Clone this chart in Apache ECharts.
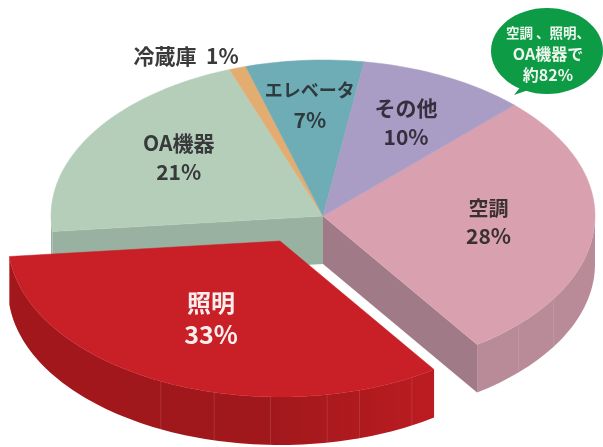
<!DOCTYPE html>
<html>
<head>
<meta charset="utf-8">
<style>html,body{margin:0;padding:0;background:#fff}#c{width:603px;height:447px}</style>
<script src="https://cdn.jsdelivr.net/npm/echarts@6/dist/echarts.min.js"></script>
</head>
<body>
<div id="c"></div>
<script>
const categories = ['空調', '照明', 'OA機器', '冷蔵庫', 'エレベータ', 'その他'];
const shares = [28, 33, 21, 1, 7, 10];
const bubbleLines = ['空調 、照明、', 'OA機器で', '約82%'];

// --- geometry and style (not data) ---
const CX = 323, CY = 216, RX = 272, RY = 156, DEPTH = 48, START = 45.3;
const topColors = ['#d9a1af', '#c91f26', '#b5ceb9', '#e3ad72', '#6eacb6', '#aa9dc5'];
const wallColors = ['#b98b99', '#a6181d', '#98b1a0', '#c99860', '#5d949d', '#8f84a8'];
const cutColors = ['#a07b87', '#8f1418', '#98b1a0', '#c99860', '#5d949d', '#8f84a8'];
const explode = [[0, 0], [-43, 25], [0, 0], [0, 0], [0, 0], [0, 0]];
const labelPolar = [[0.61, 1.5], [0.56, -2], [0.65, -3.2], [1.14, 7.9], [0.71, 0], [0.67, -0.4]];
const labelInk = ['#3a3034', '#fbeeee', '#37393a', '#3a3a3a', '#2f3a3e', '#352f3e'];
const labelSize = [20, 24, 21, 21, 18, 21];
const pctSize = [21, 25, 21, 21, 21, 21];
const labelGap = [14, 16, 14.5, 0, 15, 14.5];
const seamAngles = [244, 256, 268, 280, 287, 299, 316, 328];
const FONT = '"Noto Sans CJK JP","Noto Sans",sans-serif';

const rad = d => d * Math.PI / 180;
const pt = (t, ox, oy, dy) => [CX + ox + RX * Math.cos(rad(t)), CY + oy - RY * Math.sin(rad(t)) + (dy || 0)];
function arc(a, b, ox, oy, dy) {
  const n = Math.max(2, Math.ceil(Math.abs(a - b) / 1.5)), out = [];
  for (let i = 0; i <= n; i++) out.push(pt(a + (b - a) * i / n, ox, oy, dy));
  return out;
}

function renderItem(params, api) {
  const i = params.dataIndex;
  const value = api.value(0);
  const total = shares.reduce((s, v) => s + v, 0);
  const before = shares.slice(0, i).reduce((s, v) => s + v, 0);
  const a = START - before / total * 360;
  const b = a - value / total * 360;
  const [ox, oy] = explode[i];
  const base = i === 1 ? 50 : 0;   // the pulled-out slice sits in front of everything
  const kids = [];
  const c = [CX + ox, CY + oy];

  // side face along the cut edge that faces the viewer
  const cutT = i === 0 ? b : (i === 2 ? a : null);
  if (cutT !== null) {
    const e = pt(cutT, ox, oy);
    kids.push({ type: 'polygon', z2: base + 1,
      shape: { points: [c, e, [e[0], e[1] + DEPTH], [c[0], c[1] + DEPTH]] },
      style: { fill: cutColors[i] } });
  }
  // outer wall on the front half
  const fa = Math.min(a, 0), fb = Math.max(b, -180);
  if (fa > fb) {
    const top = arc(fa, fb, ox, oy), low = arc(fb, fa, ox, oy, DEPTH);
    const fill = i === 1
      ? { type: 'linear', x: 0, y: 0, x2: 1, y2: 0, colorStops: [{ offset: 0, color: '#a2171b' }, { offset: 0.6, color: '#a0181c' }, { offset: 1, color: '#bb1c21' }] }
      : wallColors[i];
    kids.push({ type: 'polygon', z2: base + 2, shape: { points: top.concat(low) }, style: { fill } });
    seamAngles.forEach(s => {
      const t = s - 360;
      if (t < fa && t > fb) {
        const p = pt(t, ox, oy);
        kids.push({ type: 'line', z2: base + 3,
          shape: { x1: p[0], y1: p[1], x2: p[0], y2: p[1] + DEPTH },
          style: { stroke: 'rgba(255,225,225,0.13)', lineWidth: 1 } });
      }
    });
  }
  // top surface
  kids.push({ type: 'polygon', z2: base + 10,
    shape: { points: [c].concat(arc(a, b, ox, oy)) },
    style: { fill: topColors[i], stroke: topColors[i], lineWidth: 0.5 } });

  // labels are placed from the slice's own mid angle
  const [lr, da] = labelPolar[i];
  const mid = (a + b) / 2 + da;
  const lx = CX + ox + lr * RX * Math.cos(rad(mid));
  const ly = CY + oy - lr * RY * Math.sin(rad(mid));
  const name = categories[i], pct = value + '%';
  const txt = (text, x, y, size) => ({ type: 'text', z2: 100,
    style: { text, x, y, fill: labelInk[i], font: 'bold ' + size + 'px ' + FONT, align: 'center', verticalAlign: 'middle' } });
  if (value < 3) kids.push(txt(name + '  ' + pct, lx, ly, labelSize[i]));
  else {
    kids.push(txt(name, lx, ly - labelGap[i], labelSize[i]));
    kids.push(txt(pct, lx, ly + labelGap[i], pctSize[i]));
  }
  return { type: 'group', children: kids };
}

const chart = echarts.init(document.getElementById('c'), null, { renderer: 'canvas' });
chart.setOption({
  backgroundColor: '#fff',
  animation: false,
  series: [{
    type: 'custom',
    coordinateSystem: 'none',
    renderItem,
    data: shares.map(v => [v]),
    silent: true
  }],
  graphic: [
    { type: 'polygon', z: 20, shape: { points: [[522, 85], [514, 95], [534, 88]] }, style: { fill: '#0e9b46' } },
    { type: 'ellipse', z: 20, shape: { cx: 547, cy: 51, rx: 56, ry: 43 }, style: { fill: '#0e9b46' } }
  ].concat(bubbleLines.map((t, k) => ({
    type: 'text', z: 21,
    style: { text: t, x: 548, y: [33, 54, 75][k], fill: '#eef7ee', font: 'bold ' + [13.5, 16, 16][k] + 'px ' + FONT, align: 'center', verticalAlign: 'middle' }
  })))
});
</script>
</body>
</html>
